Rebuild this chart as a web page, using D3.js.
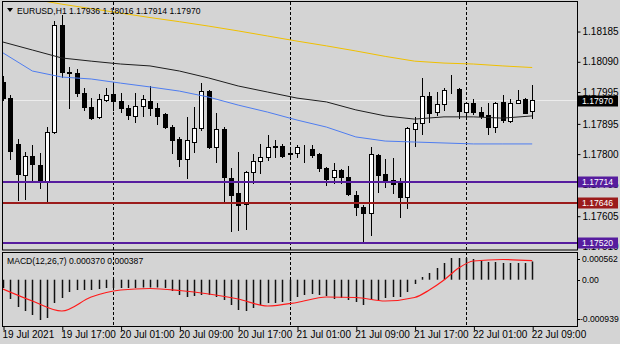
<!DOCTYPE html>
<html>
<head>
<meta charset="utf-8">
<script src="https://cdn.jsdelivr.net/npm/d3@7"></script>
<style>
  body { margin: 0; background: #d4d4d4; }
  svg { display: block; font-family: "Liberation Sans", Arial, sans-serif; font-size: 8.6px; }
</style>
</head>
<body>
<div id="chart"></div>
<script>
// EURUSD H1, 19 Jul 09:00 .. 22 Jul 09:00 (one value per bar)
const opens  = [1.18027,1.17976,1.17832,1.17735,1.17794,1.17766,1.17713,1.17870,1.18206,1.18058,1.18055,1.17992,1.17948,1.17917,1.17970,1.17989,1.17967,1.17945,1.17920,1.17951,1.17967,1.17945,1.17926,1.17885,1.17848,1.17785,1.17838,1.17882,1.17998,1.17822,1.17879,1.17725,1.17678,1.17643,1.17744,1.17778,1.17791,1.17822,1.17826,1.17800,1.17804,1.17822,1.17816,1.17800,1.17756,1.17728,1.17750,1.17728,1.17672,1.17634,1.17615,1.17797,1.17738,1.17719,1.17709,1.17665,1.17879,1.17898,1.17983,1.17932,1.17957,1.18001,1.18005,1.17932,1.17961,1.17932,1.17923,1.17885,1.17964,1.17904,1.17961,1.17973,1.17936];
const highs  = [1.18045,1.17986,1.17848,1.17807,1.17829,1.17804,1.17885,1.18218,1.18237,1.18074,1.18067,1.18008,1.17976,1.17989,1.18008,1.18017,1.17992,1.17954,1.17992,1.17986,1.18014,1.17961,1.17929,1.17891,1.17854,1.17917,1.17948,1.18023,1.18001,1.17929,1.17885,1.17756,1.17807,1.17747,1.17800,1.17832,1.17860,1.17844,1.17832,1.17816,1.17829,1.17829,1.17829,1.17804,1.17760,1.17772,1.17753,1.17763,1.17684,1.17640,1.17822,1.17800,1.17785,1.17788,1.17725,1.17885,1.17917,1.18039,1.17995,1.17995,1.18008,1.18049,1.18008,1.17964,1.17973,1.17948,1.17961,1.17964,1.17986,1.17973,1.18001,1.17976,1.18016];
const lows   = [1.17970,1.17785,1.17656,1.17659,1.17713,1.17694,1.17647,1.17866,1.18042,1.17945,1.17983,1.17939,1.17910,1.17913,1.17967,1.17939,1.17932,1.17910,1.17901,1.17920,1.17923,1.17895,1.17882,1.17804,1.17763,1.17725,1.17807,1.17876,1.17819,1.17775,1.17653,1.17559,1.17562,1.17565,1.17709,1.17741,1.17782,1.17791,1.17791,1.17788,1.17791,1.17775,1.17791,1.17747,1.17703,1.17709,1.17709,1.17672,1.17609,1.17521,1.17546,1.17681,1.17697,1.17678,1.17603,1.17631,1.17826,1.17863,1.17901,1.17923,1.17939,1.17992,1.17913,1.17913,1.17926,1.17913,1.17863,1.17870,1.17901,1.17901,1.17961,1.17929,1.17914];
const closes = [1.17976,1.17810,1.17738,1.17794,1.17769,1.17713,1.17870,1.18206,1.18058,1.18055,1.17992,1.17948,1.17913,1.17973,1.17986,1.17967,1.17945,1.17923,1.17951,1.17973,1.17945,1.17920,1.17885,1.17844,1.17785,1.17844,1.17882,1.17998,1.17822,1.17879,1.17728,1.17672,1.17640,1.17744,1.17778,1.17791,1.17822,1.17826,1.17794,1.17802,1.17822,1.17823,1.17797,1.17756,1.17722,1.17750,1.17728,1.17675,1.17634,1.17615,1.17800,1.17735,1.17716,1.17706,1.17665,1.17882,1.17898,1.17983,1.17929,1.17957,1.18001,1.18002,1.17935,1.17961,1.17932,1.17920,1.17885,1.17961,1.17907,1.17961,1.17970,1.17929,1.17970];

// moving averages, sampled every 4 bars
const maIdx    = [0,4,8,12,16,20,24,28,32,36,40,44,48,52,56,60,64,68,72];
const maBlack  = [1.18152,1.18127,1.18102,1.18092,1.18083,1.18077,1.18061,1.18039,1.18014,1.17995,1.17976,1.17964,1.17939,1.17920,1.17910,1.17917,1.17917,1.17913,1.17920];
const maBlue   = [1.18118,1.18061,1.18042,1.18036,1.18023,1.18011,1.17998,1.17979,1.17954,1.17932,1.17907,1.17885,1.17854,1.17841,1.17838,1.17835,1.17832,1.17832,1.17832];
const maYellow = [1.18300,1.18287,1.18271,1.18257,1.18243,1.18229,1.18216,1.18202,1.18187,1.18171,1.18155,1.18140,1.18124,1.18107,1.18092,1.18086,1.18083,1.18077,1.18072];

// MACD(12,26,7)
const macdHist = [-0.000168,-0.000391,-0.000554,-0.000635,-0.000716,-0.000817,-0.000777,-0.000473,-0.000371,-0.000249,-0.000209,-0.000209,-0.000209,-0.000189,-0.000168,-0.000168,-0.000168,-0.000168,-0.000168,-0.000158,-0.000158,-0.000158,-0.000168,-0.000229,-0.000310,-0.000351,-0.000331,-0.000310,-0.000310,-0.000351,-0.000412,-0.000513,-0.000615,-0.000635,-0.000574,-0.000513,-0.000473,-0.000473,-0.000452,-0.000432,-0.000351,-0.000310,-0.000290,-0.000310,-0.000331,-0.000391,-0.000371,-0.000412,-0.000452,-0.000513,-0.000412,-0.000412,-0.000371,-0.000351,-0.000351,-0.000249,-0.000087,0.000055,0.000136,0.000237,0.000339,0.000440,0.000440,0.000440,0.000420,0.000379,0.000359,0.000359,0.000339,0.000339,0.000339,0.000339,0.000370];
const sigIdx  = [0,4,8,12,16,20,24,28,32,36,40,44,48,52,56,58,60,62,64,68,72];
const sigVals = [-0.000189,-0.000432,-0.000635,-0.000351,-0.000209,-0.000178,-0.000219,-0.000290,-0.000391,-0.000533,-0.000462,-0.000351,-0.000361,-0.000432,-0.000361,-0.000209,-0.000006,0.000237,0.000379,0.000410,0.000387];

// horizontal levels
const levels = [1.17714, 1.17646, 1.17520];
const levelColors = ["#561c9e", "#9b1b1b", "#561c9e"];
const bidPrice = 1.17970;

// axes
const priceTicks = [1.18185,1.18090,1.17995,1.17895,1.17800,1.17705,1.17605,1.17510];
const timeIdx = [0,8,16,24,32,40,48,56,64,72];
const timeLabels = ["19 Jul 2021","19 Jul 17:00","20 Jul 01:00","20 Jul 09:00","20 Jul 17:00","21 Jul 01:00","21 Jul 09:00","21 Jul 17:00","22 Jul 01:00","22 Jul 09:00"];
const daySepIdx = [15, 39, 63];   // 00:00 bars
const macdRange = [-0.000939, 0.000562];

const width = 620, height = 344;
const left = 3, right = 577, mainTop = 2, mainBottom = 249, macdTop = 252, macdBottom = 326;

const svg = d3.select("#chart").append("svg")
    .attr("width", width).attr("height", height);

svg.append("rect").attr("width", width).attr("height", height).attr("fill", "#d4d4d4");

const x = d3.scaleLinear().domain([0, 72]).range([3, 532.2]);
const y = d3.scaleLinear().domain([1.17502, 1.182778]).range([mainBottom, mainTop]);
const ym = d3.scaleLinear().domain(macdRange).range([macdBottom, macdTop]);

const defs = svg.append("defs");
defs.append("clipPath").attr("id", "clipMain").append("rect")
    .attr("x", left).attr("y", mainTop).attr("width", right - left).attr("height", mainBottom - mainTop);
defs.append("clipPath").attr("id", "clipMacd").append("rect")
    .attr("x", left).attr("y", macdTop).attr("width", right - left).attr("height", macdBottom - macdTop);

// period separators
svg.append("g").selectAll("line").data(daySepIdx).enter().append("line")
    .attr("x1", d => Math.round(x(d)) + 0.5).attr("x2", d => Math.round(x(d)) + 0.5)
    .attr("y1", mainTop).attr("y2", macdBottom)
    .attr("stroke", "#000").attr("stroke-dasharray", "3,2");

const main = svg.append("g").attr("clip-path", "url(#clipMain)");

// bid line
main.append("line")
    .attr("x1", left).attr("x2", right)
    .attr("y1", Math.round(y(bidPrice)) + 0.5).attr("y2", Math.round(y(bidPrice)) + 0.5)
    .attr("stroke", "#ececec");

// candles
const bars = d3.range(closes.length);
const candle = main.append("g").selectAll("g").data(bars).enter().append("g");
candle.append("line")
    .attr("x1", i => Math.round(x(i)) + 0.5).attr("x2", i => Math.round(x(i)) + 0.5)
    .attr("y1", i => Math.round(y(highs[i]))).attr("y2", i => Math.round(y(lows[i])) + 1)
    .attr("stroke", "#000");
candle.append("rect")
    .attr("x", i => Math.round(x(i)) - 1.5)
    .attr("y", i => Math.round(y(Math.max(opens[i], closes[i]))) + 0.5)
    .attr("width", 4)
    .attr("height", i => Math.max(0, Math.round(y(Math.min(opens[i], closes[i]))) - Math.round(y(Math.max(opens[i], closes[i])))))
    .attr("fill", i => closes[i] >= opens[i] ? "#fff" : "#000")
    .attr("stroke", "#000");

// moving averages
const maLine = vals => d3.line().x((d, k) => x(maIdx[k])).y(d => y(d))(vals);
main.append("path").attr("d", maLine(maYellow)).attr("fill", "none").attr("stroke", "#f0c000");
main.append("path").attr("d", maLine(maBlack)).attr("fill", "none").attr("stroke", "#1e1e1e");
main.append("path").attr("d", maLine(maBlue)).attr("fill", "none").attr("stroke", "#4f7df0");

// horizontal levels
main.selectAll(".level").data(levels).enter().append("line")
    .attr("class", "level")
    .attr("x1", left).attr("x2", right)
    .attr("y1", d => Math.round(y(d))).attr("y2", d => Math.round(y(d)))
    .attr("stroke", (d, i) => levelColors[i]).attr("stroke-width", 2);

// MACD panel
const macd = svg.append("g").attr("clip-path", "url(#clipMacd)");
macd.selectAll("line").data(macdHist).enter().append("line")
    .attr("x1", (d, i) => Math.round(x(i)) + 0.5).attr("x2", (d, i) => Math.round(x(i)) + 0.5)
    .attr("y1", ym(0)).attr("y2", d => ym(d))
    .attr("stroke", "#111").attr("stroke-width", 1.5);
macd.append("path")
    .attr("d", d3.line().x((d, k) => x(sigIdx[k])).y(d => ym(d)).curve(d3.curveMonotoneX)(sigVals))
    .attr("fill", "none").attr("stroke", "#ff1a1a").attr("stroke-width", 1.2);

// frames
svg.append("rect").attr("x", 2.5).attr("y", 1.5).attr("width", right - 2).attr("height", mainBottom - 0.5)
    .attr("fill", "none").attr("stroke", "#000");
svg.append("rect").attr("x", 2.5).attr("y", macdTop + 0.5).attr("width", right - 2).attr("height", macdBottom - macdTop)
    .attr("fill", "none").attr("stroke", "#000");

// price axis
const yAxis = svg.append("g").attr("transform", `translate(${right + 0.5},0)`)
    .call(d3.axisRight(y).tickValues(priceTicks).tickSize(3).tickPadding(2).tickFormat(d3.format(".5f")));
yAxis.select(".domain").remove();
yAxis.selectAll("text").attr("font-family", null).attr("font-size", null).attr("fill", "#000");
yAxis.selectAll("line").attr("stroke", "#000");

// MACD axis
const macdTicks = [macdRange[1], 0, macdRange[0]];
const macdLabels = ["0.000562", "0.00", "-0.000939"];
const macdLabelY = [259, ym(0), 319];
const mAxis = svg.append("g");
mAxis.selectAll("line").data(macdTicks).enter().append("line")
    .attr("x1", right).attr("x2", right + 3)
    .attr("y1", (d, i) => Math.round(macdLabelY[i]) + 0.5).attr("y2", (d, i) => Math.round(macdLabelY[i]) + 0.5)
    .attr("stroke", "#000");
mAxis.selectAll("text").data(macdLabels).enter().append("text")
    .attr("x", (d, i) => i === 2 ? right + 3 : right + 5)
    .attr("y", (d, i) => macdLabelY[i]).attr("dy", "0.34em")
    .text(d => d);

// level labels
const lab = svg.append("g");
lab.selectAll("rect").data(levels).enter().append("rect")
    .attr("x", right + 1).attr("y", d => Math.round(y(d)) - 5.5)
    .attr("width", 40).attr("height", 11)
    .attr("fill", (d, i) => levelColors[i]);
lab.selectAll("text").data(levels).enter().append("text")
    .attr("x", right + 5).attr("y", d => Math.round(y(d))).attr("dy", "0.34em")
    .attr("fill", "#fff").text(d => d3.format(".5f")(d));
lab.append("rect").attr("x", right + 1).attr("y", Math.round(y(bidPrice)) - 4.5)
    .attr("width", 40).attr("height", 11).attr("fill", "#000");
lab.append("text").attr("x", right + 5).attr("y", Math.round(y(bidPrice)) + 1).attr("dy", "0.34em")
    .attr("fill", "#fff").text(d3.format(".5f")(bidPrice));

// time axis
const xAxis = svg.append("g").attr("transform", `translate(0,${macdBottom + 0.5})`)
    .call(d3.axisBottom(x).tickValues(timeIdx).tickSize(4).tickPadding(0)
        .tickFormat((d, i) => timeLabels[i]));
xAxis.select(".domain").remove();
xAxis.selectAll("line").attr("stroke", "#000").attr("transform", "translate(0.5,0)");
xAxis.selectAll("text").attr("font-family", null).attr("font-size", null).attr("fill", "#000")
    .attr("text-anchor", "start").attr("x", -1);

// titles
svg.append("path").attr("d", "M7,8 L13,8 L10,12 Z").attr("fill", "#000");
svg.append("text").attr("x", 17).attr("y", 13.5).text("EURUSD,H1  1.17936 1.18016 1.17914 1.17970");
svg.append("text").attr("x", 7).attr("y", 264).text("MACD(12,26,7) 0.000370 0.000387");
</script>
</body>
</html>
